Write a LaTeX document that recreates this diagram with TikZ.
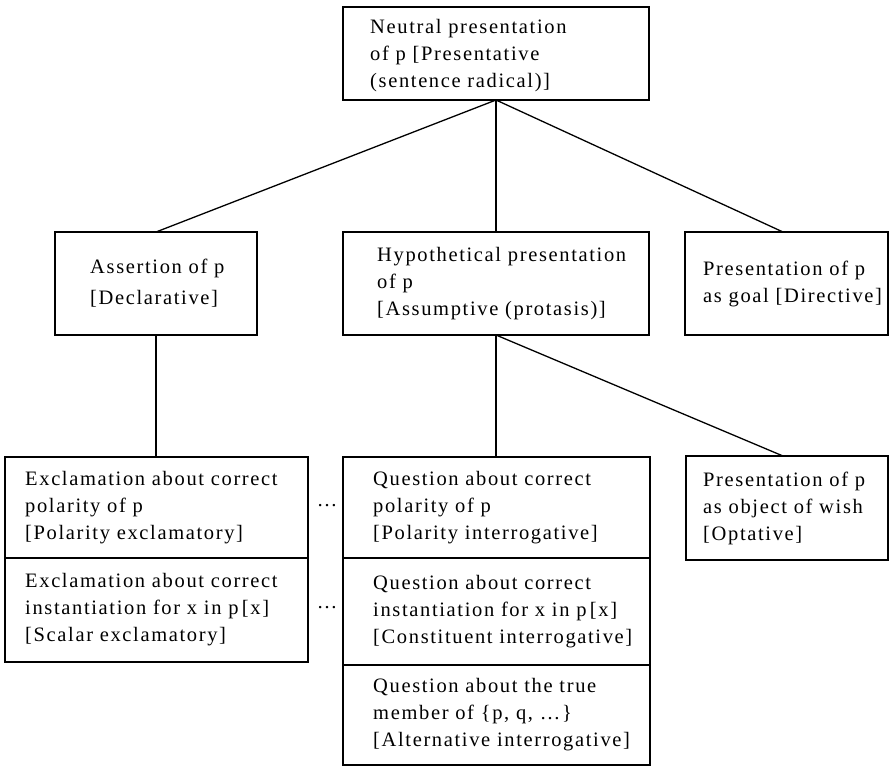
\documentclass[tikz,border=0pt]{standalone}
\usepackage{fontspec}
\setmainfont{Liberation Serif}[LetterSpace=8]
\begin{document}
\begin{tikzpicture}[x=1pt,y=-1pt,
  box/.style={draw, line width=1.3pt, inner sep=0pt, outer sep=0pt},
  txt/.style={anchor=west, align=left, inner sep=0pt, font=\fontsize{20.5}{27}\selectfont},
  link/.style={line width=1.3pt}]
\useasboundingbox (0,0) rectangle (889,766);
% boxes
\node[box, minimum width=306pt, minimum height=93pt] (top) at (496,53.5) {};
\node[box, minimum width=202pt, minimum height=103pt] (asr) at (156,283.5) {};
\node[box, minimum width=306pt, minimum height=103pt] (hyp) at (496,283.5) {};
\node[box, minimum width=203pt, minimum height=103pt] (dir) at (786.5,283.5) {};
\node[box, minimum width=303pt, minimum height=101pt] (l1) at (156.5,507.5) {};
\node[box, minimum width=303pt, minimum height=104pt] (l2) at (156.5,610) {};
\node[box, minimum width=307pt, minimum height=101pt] (m1) at (496.5,507.5) {};
\node[box, minimum width=307pt, minimum height=107pt] (m2) at (496.5,611.5) {};
\node[box, minimum width=307pt, minimum height=100pt] (m3) at (496.5,715) {};
\node[box, minimum width=202pt, minimum height=104pt] (opt) at (787,508) {};
% texts
\node[txt] (ttop) at ([xshift=27pt,yshift=-2pt]top.west) {Neutral presentation\\of p {[}Presentative\\(sentence radical){]}};
\node[txt, font=\fontsize{20.5}{31}\selectfont] (tasr) at ([xshift=35pt]asr.west) {Assertion of p\\{[}Declarative{]}};
\node[txt] (thyp) at ([xshift=34pt]hyp.west) {Hypothetical presentation\\of p\\{[}Assumptive (protasis){]}};
\node[txt] (tdir) at ([xshift=18pt]dir.west) {Presentation of p\\as goal {[}Directive{]}};
\node[txt] (tl1) at ([xshift=20pt]l1.west) {Exclamation about correct\\polarity of p\\{[}Polarity exclamatory{]}};
\node[txt] (tl2) at ([xshift=20pt]l2.west) {Exclamation about correct\\instantiation for x in p\,{[}x{]}\\{[}Scalar exclamatory{]}};
\node[txt] (tm1) at ([xshift=30pt]m1.west) {Question about correct\\polarity of p\\{[}Polarity interrogative{]}};
\node[txt] (tm2) at ([xshift=30pt]m2.west) {Question about correct\\instantiation for x in p\,{[}x{]}\\{[}Constituent interrogative{]}};
\node[txt] (tm3) at ([xshift=30pt]m3.west) {Question about the true\\member of \{p, q, \dots\}\\{[}Alternative interrogative{]}};
\node[txt] (topt) at ([xshift=17pt]opt.west) {Presentation of p\\as object of wish\\{[}Optative{]}};
% dots
\node[inner sep=0pt, font=\fontsize{20.5}{27}\selectfont] (d1) at (327,506) {\dots};
\node[inner sep=0pt, font=\fontsize{20.5}{27}\selectfont] (d2) at (327,608) {\dots};
% connectors
\draw[link] (top.south) -- (asr.north);
\draw[link] (top.south) -- (hyp.north);
\draw[link] (top.south) -- ([xshift=-3.5pt]dir.north);
\draw[link] (asr.south) -- ([xshift=-0.5pt]l1.north);
\draw[link] (hyp.south) -- ([xshift=-0.5pt]m1.north);
\draw[link] (hyp.south) -- ([xshift=-4pt]opt.north);
\end{tikzpicture}
\end{document}
